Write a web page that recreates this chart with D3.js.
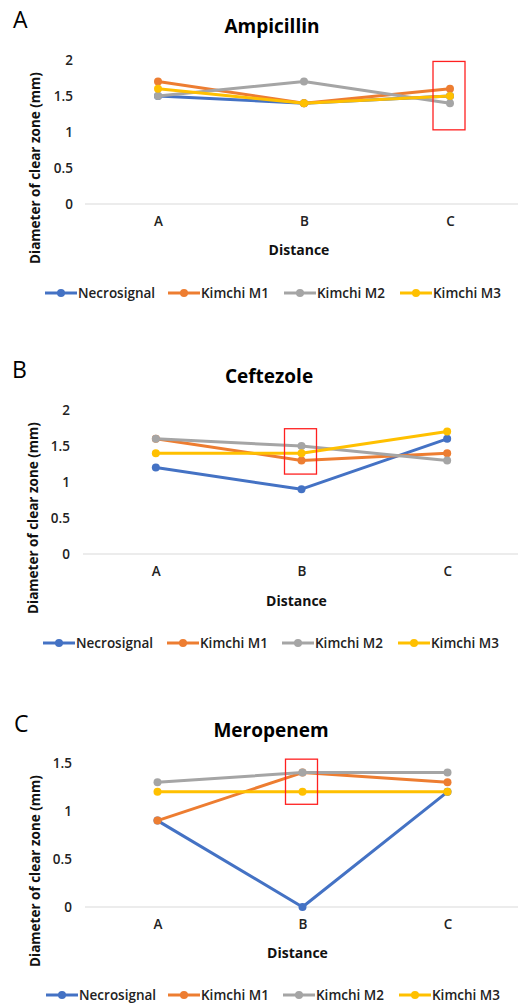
<!DOCTYPE html>
<html>
<head>
<meta charset="utf-8">
<script src="https://cdn.jsdelivr.net/npm/d3@7"></script>
<style>
  html, body { margin: 0; padding: 0; background: #fff; }
  svg { display: block; font-family: "Open Sans", "Noto Sans", sans-serif; }
</style>
</head>
<body>
<svg id="chart" width="518" height="1006"></svg>
<script>
// ---------- DATA ----------
const categories = ["A", "B", "C"];
const seriesNames = ["Necrosignal", "Kimchi M1", "Kimchi M2", "Kimchi M3"];
const seriesColors = ["#4472C4", "#ED7D31", "#A5A5A5", "#FFC000"];

const ampicillinValues = [
  [1.5, 1.4, 1.5],  // Necrosignal
  [1.7, 1.4, 1.6],  // Kimchi M1
  [1.5, 1.7, 1.4],  // Kimchi M2
  [1.6, 1.4, 1.5]   // Kimchi M3
];
const ceftezoleValues = [
  [1.2, 0.9, 1.6],
  [1.6, 1.3, 1.4],
  [1.6, 1.5, 1.3],
  [1.4, 1.4, 1.7]
];
const meropenemValues = [
  [0.9, 0.0, 1.2],
  [0.9, 1.4, 1.3],
  [1.3, 1.4, 1.4],
  [1.2, 1.2, 1.2]
];

const ticksA = [0, 0.5, 1, 1.5, 2];
const ticksB = [0, 0.5, 1, 1.5, 2];
const ticksC = [0, 0.5, 1, 1.5];

const titles = ["Ampicillin", "Ceftezole", "Meropenem"];
const panelLetters = ["A", "B", "C"];
const yAxisTitle = "Diameter of clear zone (mm)";
const xAxisTitle = "Distance";

// highlighted box: [category, low value, high value]
const highlightA = ["C", 1.03, 1.98];
const highlightB = ["B", 1.11, 1.74];
const highlightC = ["B", 1.07, 1.54];

// ---------- LAYOUT ----------
const panels = [
  { values: ampicillinValues, ticks: ticksA, yMax: 2, highlight: highlightA,
    top: 60, bottom: 204, x0: 85, x1: 523, axisEnd: 518,
    letterX: 13, letterY: 28, titleX: 272, titleY: 33,
    tickX: 73, catY: 229, xTitleY: 255, yTitleX: 40, yTitleY: 168,
    legendY: 293, legendX: [45, 168, 284, 400] },
  { values: ceftezoleValues, ticks: ticksB, yMax: 2, highlight: highlightB,
    top: 410, bottom: 554, x0: 83, x1: 520, axisEnd: 518,
    letterX: 12, letterY: 378, titleX: 269, titleY: 383,
    tickX: 70, catY: 579, xTitleY: 606, yTitleX: 38, yTitleY: 518,
    legendY: 643, legendX: [43, 167, 282, 398] },
  { values: meropenemValues, ticks: ticksC, yMax: 1.5, highlight: highlightC,
    top: 763, bottom: 907, x0: 85, x1: 520, axisEnd: 518,
    letterX: 14, letterY: 732, titleX: 271, titleY: 737,
    tickX: 72, catY: 932, xTitleY: 958, yTitleX: 40, yTitleY: 871,
    legendY: 995, legendX: [46, 168, 283, 399] }
];

const svg = d3.select("#chart");

panels.forEach((p, pi) => {
  const g = svg.append("g");
  const x = d3.scalePoint().domain(categories).range([p.x0, p.x1]).padding(0.5);
  const y = d3.scaleLinear().domain([0, p.yMax]).range([p.bottom, p.top]);

  // panel letter
  g.append("text").attr("x", p.letterX).attr("y", p.letterY)
    .attr("font-size", 23).attr("fill", "#000").text(panelLetters[pi]);

  // title
  g.append("text").attr("x", p.titleX).attr("y", p.titleY)
    .attr("text-anchor", "middle").attr("font-size", 19).attr("font-weight", 700)
    .attr("fill", "#000").text(titles[pi]);

  // x baseline
  g.append("line").attr("x1", p.x0).attr("x2", p.axisEnd)
    .attr("y1", y(0)).attr("y2", y(0))
    .attr("stroke", "#D9D9D9").attr("stroke-width", 1);

  // y tick labels via axis
  const yAxis = d3.axisLeft(y).tickValues(p.ticks).tickFormat(d3.format("")).tickSize(0).tickPadding(0);
  const ya = g.append("g").attr("transform", `translate(${p.tickX},0)`).call(yAxis);
  ya.select(".domain").remove();
  ya.selectAll("text").attr("font-size", 13.5).attr("font-weight", 600)
    .attr("fill", "#222").attr("font-family", "'Open Sans', 'Noto Sans', sans-serif");

  // x tick labels via axis
  const xAxis = d3.axisBottom(x).tickSize(0).tickPadding(0);
  const xa = g.append("g").attr("transform", `translate(0,${p.catY - 13})`).call(xAxis);
  xa.select(".domain").remove();
  xa.selectAll("text").attr("font-size", 13.5).attr("font-weight", 600)
    .attr("fill", "#222").attr("font-family", "'Open Sans', 'Noto Sans', sans-serif");

  // axis titles
  g.append("text").attr("x", (p.x0 + p.x1) / 2 - 5).attr("y", p.xTitleY)
    .attr("text-anchor", "middle").attr("font-size", 14).attr("font-weight", 700)
    .attr("fill", "#111").text(xAxisTitle);
  g.append("text")
    .attr("transform", `translate(${p.yTitleX},${p.yTitleY}) rotate(-90)`)
    .attr("text-anchor", "middle").attr("font-size", 13.5).attr("font-weight", 700)
    .attr("fill", "#111").text(yAxisTitle);

  // series
  const line = d3.line().x((d, i) => x(categories[i])).y(d => y(d));
  p.values.forEach((vals, si) => {
    g.append("path").datum(vals).attr("d", line)
      .attr("fill", "none").attr("stroke", seriesColors[si])
      .attr("stroke-width", 3).attr("stroke-linejoin", "round").attr("stroke-linecap", "round");
    g.selectAll(null).data(vals).enter().append("circle")
      .attr("cx", (d, i) => x(categories[i])).attr("cy", d => y(d))
      .attr("r", 4).attr("fill", seriesColors[si]);
  });

  // highlight box
  const [hc, lo, hi] = p.highlight;
  const cx = x(hc);
  g.append("rect").attr("x", cx - 17).attr("y", y(hi))
    .attr("width", 32).attr("height", y(lo) - y(hi))
    .attr("fill", "none").attr("stroke", "#FF2020").attr("stroke-width", 1.3);

  // legend
  seriesNames.forEach((name, si) => {
    const lx = p.legendX[si];
    const lg = g.append("g");
    lg.append("line").attr("x1", lx).attr("x2", lx + 32)
      .attr("y1", p.legendY).attr("y2", p.legendY)
      .attr("stroke", seriesColors[si]).attr("stroke-width", 3);
    lg.append("circle").attr("cx", lx + 16).attr("cy", p.legendY).attr("r", 4)
      .attr("fill", seriesColors[si]);
    lg.append("text").attr("x", lx + 33).attr("y", p.legendY + 4.5)
      .attr("font-size", 13.5).attr("font-weight", 600).attr("fill", "#222").text(name);
  });
});
</script>
</body>
</html>
